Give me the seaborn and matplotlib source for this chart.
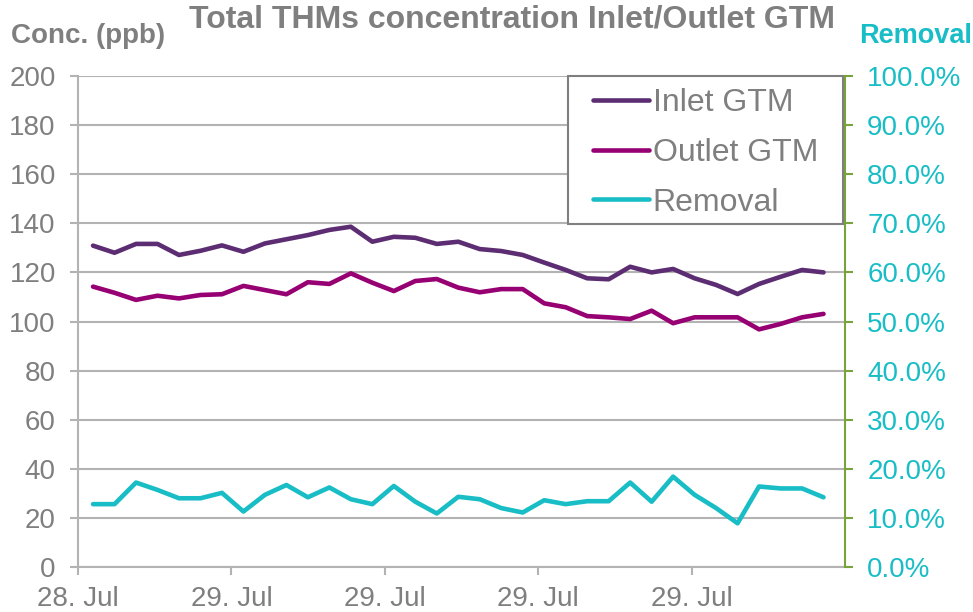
import numpy as np
import matplotlib
matplotlib.use("Agg")
import matplotlib.pyplot as plt
from matplotlib.patches import Rectangle
import seaborn as sns

# values
inlet = [130.9, 128.0, 131.6, 131.6, 127.1, 128.8, 131.0, 128.4, 131.8, 133.5,
         135.2, 137.3, 138.6, 132.5, 134.5, 134.1, 131.6, 132.5, 129.5, 128.7,
         127.1, 124.0, 121.0, 117.6, 117.2, 122.3, 120.0, 121.4, 117.6, 114.9,
         111.2, 115.3, 118.2, 121.0, 120.0]
outlet = [114.2, 111.7, 108.8, 110.5, 109.4, 110.8, 111.1, 114.5, 112.8, 111.1,
          116.0, 115.3, 119.6, 115.8, 112.4, 116.5, 117.3, 113.8, 111.9, 113.2,
          113.2, 107.4, 105.8, 102.2, 101.7, 101.0, 104.4, 99.3, 101.7, 101.7,
          101.7, 96.8, 99.0, 101.7, 103.1]
removal = [12.8, 12.8, 17.2, 15.7, 14.0, 14.0, 15.1, 11.3, 14.7, 16.7,
           14.2, 16.2, 13.8, 12.8, 16.5, 13.3, 10.9, 14.3, 13.8, 12.0,
           11.1, 13.6, 12.8, 13.4, 13.4, 17.2, 13.3, 18.4, 14.7, 12.0,
           8.9, 16.4, 16.0, 16.0, 14.2]
x_labels = ["28. Jul", "29. Jul", "29. Jul", "29. Jul", "29. Jul"]

x = np.arange(len(inlet))

sns.set_style("white")
plt.rcParams['font.family'] = ['Liberation Sans', 'DejaVu Sans']

GRAY = '#7F7F7F'
GRID = '#B3B3B3'
C_IN = '#5C2D72'
C_OUT = '#960073'
C_REM = '#19BDC6'
GREEN = '#77A33A'

fig = plt.figure(figsize=(9.73, 6.12), dpi=100)
ax = fig.add_axes([78 / 973, 1 - 567 / 612, (845 - 78) / 973, (567 - 76) / 612])
ax2 = ax.twinx()

sns.lineplot(x=x, y=inlet, ax=ax, color=C_IN, linewidth=3.3, label='Inlet GTM', legend=False)
sns.lineplot(x=x, y=outlet, ax=ax, color=C_OUT, linewidth=3.3, label='Outlet GTM', legend=False)
sns.lineplot(x=x, y=removal, ax=ax2, color=C_REM, linewidth=3.3, label='Removal', legend=False)

xlim = (-0.7, 35.0)
ax.set_xlim(xlim)
ax.set_ylim(0, 200)
ax2.set_ylim(0, 100)
ax.set_yticks(np.arange(0, 201, 20))
ax2.set_yticks(np.arange(0, 101, 10))
ax2.set_yticklabels([f"{v:.1f}%" for v in np.arange(0, 101, 10)])
ax.set_xticks(np.linspace(xlim[0], xlim[1], 6)[:-1])
ax.set_xticklabels(x_labels)

ax.grid(axis='y', color=GRID, linewidth=1.5)
ax.set_axisbelow(True)

for s in ['top']:
    ax.spines[s].set_visible(False)
    ax2.spines[s].set_visible(False)
ax2.spines['left'].set_visible(False)
ax2.spines['bottom'].set_visible(False)
ax.spines['right'].set_visible(False)
ax.spines['left'].set_color(GRID)
ax.spines['left'].set_linewidth(1.5)
ax.spines['bottom'].set_color(GRID)
ax.spines['bottom'].set_linewidth(1.5)
ax2.spines['right'].set_color(GREEN)
ax2.spines['right'].set_linewidth(1.5)

ax.tick_params(axis='y', left=True, length=6, width=1.5, color=GRID, pad=10,
               labelsize=20, labelcolor=GRAY)
ax.tick_params(axis='x', bottom=True, length=6, width=1.5, color=GRID, pad=8,
               labelsize=20, labelcolor=GRAY)
ax2.tick_params(axis='y', right=True, length=6, width=1.5, color=GREEN, pad=10,
                labelsize=20, labelcolor=C_REM)

# legend box drawn separately so the padding matches the reference
ax2.add_patch(Rectangle((0.639, 0.699), 0.358, 0.301, transform=ax2.transAxes,
                        facecolor='white', edgecolor=GRAY, linewidth=1.5,
                        zorder=4, clip_on=False))
h1, l1 = ax.get_legend_handles_labels()
h2, l2 = ax2.get_legend_handles_labels()
leg = ax2.legend(h1 + h2, l1 + l2, loc='upper left',
                 bbox_to_anchor=((593 - 78) / 767, (567 - 88) / 491),
                 fontsize=23, frameon=False, borderaxespad=0, borderpad=0,
                 handlelength=1.75, handletextpad=0.12, labelspacing=0.62,
                 labelcolor=GRAY)
leg.set_zorder(5)

fig.text(512 / 973, 1 - 19 / 612, 'Total THMs concentration Inlet/Outlet GTM',
         ha='center', va='center', fontsize=23, fontweight='bold', color=GRAY)
fig.text(88 / 973, 1 - 36 / 612, 'Conc. (ppb)', ha='center', va='center',
         fontsize=20, fontweight='bold', color=GRAY)
fig.text(916 / 973, 1 - 36 / 612, 'Removal', ha='center', va='center',
         fontsize=19.5, fontweight='bold', color=C_REM)

fig.savefig('out.png', dpi=100)
